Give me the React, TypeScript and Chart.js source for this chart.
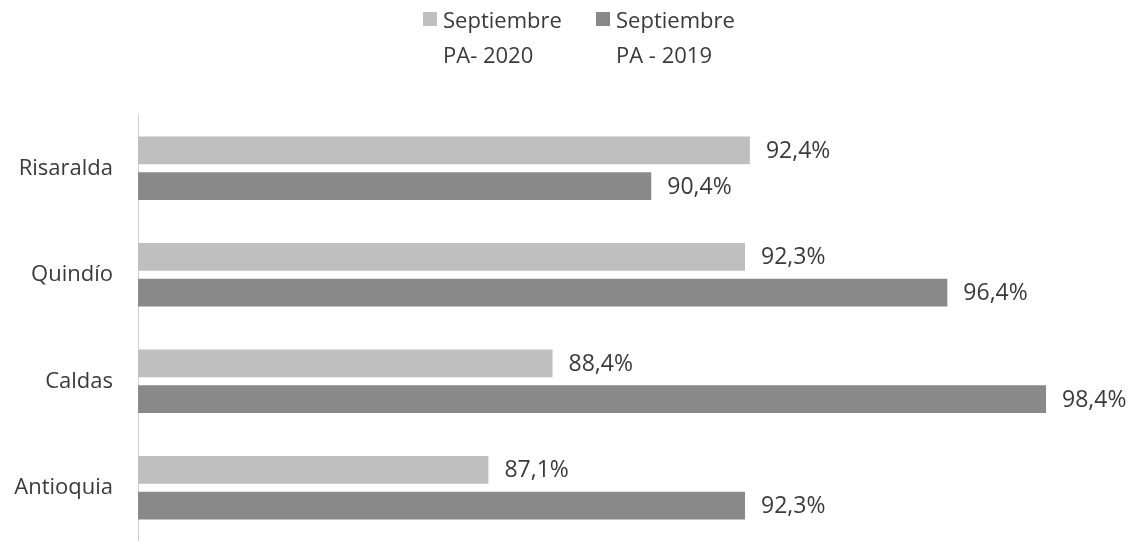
import React, { useEffect, useRef } from "react";
import { Chart, registerables } from "chart.js";

Chart.register(...registerables);

const categories = ["Risaralda", "Quindío", "Caldas", "Antioquia"];
const sept2020 = [92.4, 92.3, 88.4, 87.1];
const sept2019 = [90.4, 96.4, 98.4, 92.3];
const legend2020 = ["Septiembre", "PA- 2020"];
const legend2019 = ["Septiembre", "PA - 2019"];

const FONT = "'Open Sans', 'Noto Sans', sans-serif";
const TEXT = "#3a3a3a";
const LIGHT = "#bfbfbf";
const DARK = "#898989";

const fmt = (v: number) => v.toFixed(1).replace(".", ",") + "%";

const labelPlugin = {
  id: "valueLabels",
  afterDatasetsDraw(chart: any) {
    const ctx = chart.ctx;
    ctx.save();
    ctx.font = `23px ${FONT}`;
    ctx.fillStyle = TEXT;
    ctx.textAlign = "left";
    ctx.textBaseline = "middle";
    chart.data.datasets.forEach((ds: any, di: number) => {
      const meta = chart.getDatasetMeta(di);
      meta.data.forEach((bar: any, i: number) => {
        ctx.fillText(fmt(ds.data[i]), bar.x + 16, bar.y + 1);
      });
    });
    ctx.restore();
  },
};

const legendPlugin = {
  id: "customLegend",
  afterDraw(chart: any) {
    const ctx = chart.ctx;
    ctx.save();
    ctx.font = `22px ${FONT}`;
    ctx.textAlign = "left";
    ctx.textBaseline = "alphabetic";
    const items = [
      { lines: legend2020, color: LIGHT, x: 423 },
      { lines: legend2019, color: DARK, x: 596 },
    ];
    items.forEach((it) => {
      ctx.fillStyle = it.color;
      ctx.fillRect(it.x, 12, 14, 14);
      ctx.fillStyle = TEXT;
      it.lines.forEach((ln, k) => {
        ctx.fillText(ln, it.x + 20, 28 + k * 35);
      });
    });
    ctx.restore();
  },
};

export default function App() {
  const ref = useRef<HTMLCanvasElement | null>(null);
  useEffect(() => {
    if (!ref.current) return;
    const chart = new Chart(ref.current, {
      type: "bar",
      data: {
        labels: categories,
        datasets: [
          {
            label: legend2020.join(" "),
            data: sept2020,
            backgroundColor: LIGHT,
            categoryPercentage: 0.673,
            barPercentage: 0.778,
          },
          {
            label: legend2019.join(" "),
            data: sept2019,
            backgroundColor: DARK,
            categoryPercentage: 0.673,
            barPercentage: 0.778,
          },
        ],
      },
      options: {
        indexAxis: "y",
        animation: false,
        responsive: false,
        maintainAspectRatio: false,
        layout: { padding: { top: 115, right: 12, bottom: -2, left: 0 } },
        plugins: {
          legend: { display: false },
          tooltip: { enabled: false },
        },
        scales: {
          x: { display: false, min: 80, max: 100 },
          y: {
            grid: { display: false, drawTicks: false },
            border: { display: true, color: "#d0d0d0", width: 1 },
            ticks: {
              color: TEXT,
              font: { family: FONT, size: 22 },
              padding: 25,
            },
            afterFit(scale: any) {
              scale.width = 138;
              scale.paddingTop = 0;
              scale.paddingBottom = -2;
            },
          },
        },
      },
      plugins: [labelPlugin, legendPlugin],
    });
    return () => chart.destroy();
  }, []);
  return (
    <div style={{ position: "fixed", left: 0, top: 0, width: 1137, height: 541, background: "#fff" }}>
      <canvas ref={ref} width={1137} height={541} style={{ display: "block", width: 1137, height: 541 }} />
    </div>
  );
}
